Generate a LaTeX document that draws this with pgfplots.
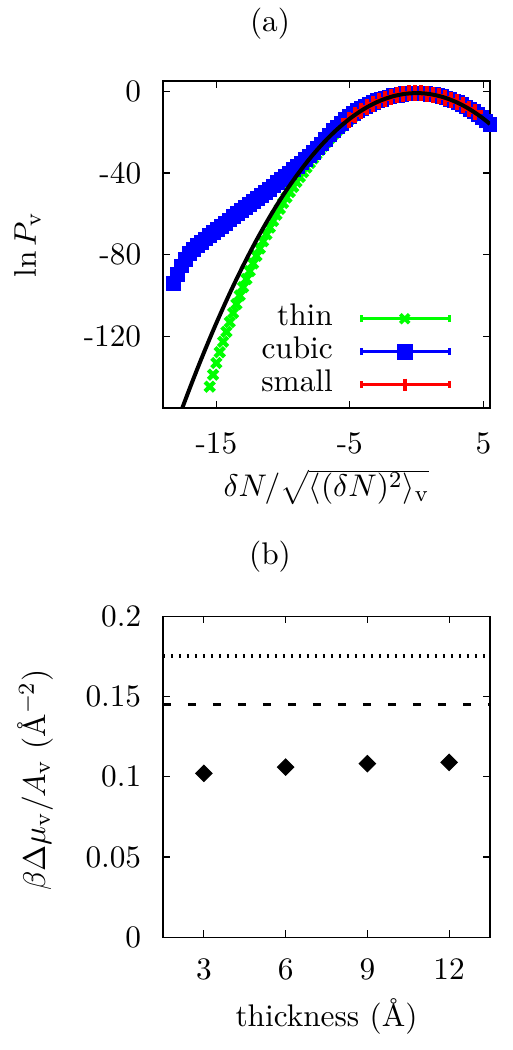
\documentclass[border=0pt]{standalone}
\usepackage{pgfplots}
\pgfplotsset{compat=1.18}
\definecolor{ggreen}{RGB}{0,255,0}
\definecolor{bblue}{RGB}{0,0,255}
\definecolor{rred}{RGB}{255,0,0}
\newcommand{\mylegend}[3]{%
  \draw[#1, line width=1pt] (0pt,0pt) -- (30.8pt,0pt);
  \draw[#1, line width=1pt] (0pt,-1.2pt) -- (0pt,1.2pt) (30.8pt,-1.2pt) -- (30.8pt,1.2pt);
  \draw[#1, line width=1.3pt] plot[only marks, mark=#2, mark options={#3}] coordinates {(15.3pt,0pt)};
}
\begin{document}
\fontsize{10.95pt}{13pt}\selectfont
\begin{tikzpicture}
\useasboundingbox (0,0) rectangle (179.55pt,367.5pt);
\node at (94.5pt,359.3pt) {(a)};
\node at (94.5pt,172.7pt) {(b)};
\begin{axis}[
  at={(57.05pt,224.7pt)}, anchor=south west,
  scale only axis, width=114.45pt, height=114.45pt,
  xmin=-19, xmax=5.5, ymin=-155, ymax=5,
  xtick={-15,-5,5}, xticklabels={-15,-5,5},
  ytick={-120,-80,-40,0}, yticklabels={-120,-80,-40,0},
  major tick length=2.45pt,
  tick style={black, line width=0.4pt},
  xticklabel style={yshift=-4.7pt},
  yticklabel style={xshift=-3.8pt},
  xlabel={$\delta N/\sqrt{\langle(\delta N)^2\rangle_{\rm v}}$},
  ylabel={$\ln P_{\rm v}$},
  xlabel style={at={(axis description cs:0.5,-0.242)}, anchor=center},
  ylabel style={at={(axis description cs:-0.415,0.5)}, anchor=center},
  clip mode=individual,
  legend plot pos=right,
  legend cell align=right,
  legend style={draw=none, fill=none, at={(axis description cs:0.881,0.019)}, anchor=south east, inner sep=0pt, row sep=0pt, column sep=9.4pt, nodes={inner sep=0pt, text height=8pt, text depth=3.55pt}},
]
\addplot[only marks, color=ggreen, mark=x, mark size=2.3pt, line width=1.5pt,
  legend image code/.code={\mylegend{ggreen}{x}{mark size=2.2pt}}] coordinates {
(-15.5,-144.57) (-15.25,-138.70) (-15.0,-132.95) (-14.75,-127.72) (-14.5,-122.60)
(-14.25,-117.74) (-14.0,-112.97) (-13.75,-108.52) (-13.5,-104.17) (-13.25,-99.97)
(-13.0,-95.87) (-12.75,-91.91) (-12.5,-88.04) (-12.25,-84.25) (-12.0,-80.55)
(-11.75,-76.93) (-11.5,-73.40) (-11.25,-70.01) (-11.0,-66.70) (-10.75,-63.53)
(-10.5,-60.43) (-10.25,-57.52) (-10.0,-54.69) (-9.75,-51.98) (-9.5,-49.33)
(-9.25,-46.81) (-9.0,-44.35) (-8.75,-41.96) (-8.5,-39.64) (-8.25,-37.34)
(-8.0,-35.12) (-7.75,-32.92) (-7.5,-30.80) (-7.25,-28.75) (-7.0,-26.77)
(-6.75,-24.86) (-6.5,-23.03) (-6.25,-21.27) (-6.0,-19.59) (-5.75,-17.97)
(-5.5,-16.43) (-5.25,-14.99) (-5.0,-13.62) (-4.75,-12.34) (-4.5,-11.14)
(-4.25,-9.99) (-4.0,-8.92) (-3.75,-7.95) (-3.5,-7.05) (-3.25,-6.20)
(-3.0,-5.42) (-2.75,-4.70) (-2.5,-4.05) (-2.25,-3.45) (-2.0,-2.92)
(-1.75,-2.45) (-1.5,-2.05) (-1.25,-1.70) (-1.0,-1.42) (-0.75,-1.20)
(-0.5,-1.05) (-0.25,-0.95) (0,-0.92) (0.25,-0.95) (0.5,-1.05)
(0.75,-1.20) (1.0,-1.42) (1.25,-1.70) (1.5,-2.05) (1.75,-2.45)
(2.0,-2.92) (2.25,-3.45) (2.5,-4.05) (2.75,-4.70) (3.0,-5.42)
(3.25,-6.20) (3.5,-7.05) (3.75,-7.95) (4.0,-8.92) (4.25,-9.95)
(4.5,-11.05) (4.75,-12.20) (5.0,-13.42) (5.25,-14.70) (5.5,-16.05)
};
\addlegendentry{thin}
\addplot[only marks, color=bblue, mark=square*, mark size=2.4pt,
  legend image code/.code={\mylegend{bblue}{square*}{mark size=2.1pt}}] coordinates {
(-18.2,-94.0) (-17.9,-89.5) (-17.6,-85.5) (-17.3,-82.3) (-17.0,-79.6)
(-16.7,-77.4) (-16.4,-75.6) (-16.1,-73.9) (-15.8,-72.3) (-15.5,-70.8)
(-15.2,-69.3) (-14.9,-67.8) (-14.6,-66.2) (-14.3,-64.6) (-14.0,-63.0)
(-13.7,-61.5) (-13.4,-60.0) (-13.1,-58.5) (-12.8,-57.0) (-12.5,-55.5)
(-12.2,-54.0) (-11.9,-52.5) (-11.6,-51.0) (-11.3,-49.5) (-11.0,-48.0)
(-10.7,-46.4) (-10.4,-44.8) (-10.1,-43.2) (-9.8,-41.6) (-9.5,-40.0)
(-9.2,-38.4) (-8.9,-36.8) (-8.6,-35.1) (-8.3,-33.4) (-8.0,-31.7)
(-7.7,-29.8) (-7.4,-27.8) (-7.1,-25.8) (-6.8,-23.6) (-6.5,-21.4)
(-6.2,-19.4) (-5.9,-17.5) (-5.6,-15.7) (-5.3,-14.0) (-5.0,-12.4)
(-4.7,-10.9) (-4.4,-9.6) (-4.1,-8.4) (-3.8,-7.3) (-3.5,-6.3)
(-3.2,-5.4) (-2.9,-4.6) (-2.6,-3.9) (-2.3,-3.3) (-2.0,-2.8)
(-1.7,-2.3) (-1.4,-1.9) (-1.1,-1.6) (-0.8,-1.3) (-0.5,-1.1)
(-0.2,-1.0) (0.1,-0.95) (0.4,-1.0) (0.7,-1.2) (1.0,-1.45)
(1.3,-1.8) (1.6,-2.2) (1.9,-2.75) (2.2,-3.35) (2.5,-4.0)
(2.8,-4.8) (3.1,-5.6) (3.4,-6.6) (3.7,-7.7) (4.0,-8.9)
(4.3,-10.1) (4.6,-11.5) (4.9,-13.0) (5.2,-14.6) (5.5,-16.2)
};
\addlegendentry{cubic}
\addplot[only marks, color=rred, mark=+, mark size=2.8pt, line width=1.4pt,
  legend image code/.code={\mylegend{rred}{|}{mark size=2.1pt}}] coordinates {
(-5.1,-13.93) (-4.65,-11.73) (-4.2,-9.74) (-3.75,-7.95) (-3.3,-6.37)
(-2.85,-4.98) (-2.4,-3.80) (-1.95,-2.82) (-1.5,-2.05) (-1.05,-1.47)
(-0.6,-1.10) (-0.15,-0.93) (0.3,-0.97) (0.75,-1.20) (1.2,-1.64)
(1.65,-2.28) (2.1,-3.13) (2.55,-4.17) (3.0,-5.42) (3.45,-6.87)
(3.9,-8.53) (4.35,-10.38)
};
\addlegendentry{small}
\addplot[black, line width=1.4pt, smooth, forget plot] coordinates {
(-17.7,-157.57) (-17.5,-154.05) (-17.0,-145.42) (-16.5,-137.05) (-16.0,-128.92)
(-15.5,-121.05) (-15.0,-113.42) (-14.5,-106.05) (-14.0,-98.92) (-13.5,-92.05)
(-13.0,-85.42) (-12.5,-79.05) (-12.0,-72.92) (-11.5,-67.05) (-11.0,-61.42)
(-10.5,-56.05) (-10.0,-50.92) (-9.5,-46.05) (-9.0,-41.42) (-8.5,-37.05)
(-8.0,-32.92) (-7.5,-29.05) (-7.0,-25.42) (-6.5,-22.05) (-6.0,-18.92)
(-5.5,-16.05) (-5.0,-13.42) (-4.5,-11.05) (-4.0,-8.92) (-3.5,-7.05)
(-3.0,-5.42) (-2.5,-4.05) (-2.0,-2.92) (-1.5,-2.05) (-1.0,-1.42)
(-0.5,-1.05) (0,-0.92) (0.5,-1.05) (1.0,-1.42) (1.5,-2.05)
(2.0,-2.92) (2.5,-4.05) (3.0,-5.42) (3.5,-7.05) (4.0,-8.92)
(4.5,-11.05) (5.0,-13.42) (5.5,-16.05)
};
\end{axis}
\begin{axis}[
  at={(57.05pt,39.445pt)}, anchor=south west,
  scale only axis, width=114.45pt, height=112.35pt,
  xmin=1.5, xmax=13.5, ymin=0, ymax=0.2,
  xtick={3,6,9,12}, xticklabels={3,6,9,12},
  ytick={0,0.05,0.1,0.15,0.2}, yticklabels={0,0.05,0.1,0.15,0.2},
  major tick length=2.45pt,
  tick style={black, line width=0.4pt},
  xticklabel style={yshift=-3.7pt},
  yticklabel style={xshift=-3.8pt},
  xlabel={thickness (\AA)},
  ylabel={$\beta\Delta\mu_{\rm v}/A_{\rm v}$ (\AA$^{-2}$)},
  xlabel style={at={(axis description cs:0.5,-0.248)}, anchor=center},
  ylabel style={at={(axis description cs:-0.391,0.49)}, anchor=center},
  clip mode=individual,
]
\addplot[black, line width=1.4pt, dash pattern=on 0.7pt off 2.1pt] coordinates {(1.5,0.175) (13.5,0.175)};
\addplot[black, line width=0.9pt, dash pattern=on 2.9pt off 5.85pt] coordinates {(1.5,0.145) (13.5,0.145)};
\addplot[only marks, black, mark=square*, mark size=2.0pt, mark options={rotate=45}] coordinates {(3,0.1022) (6,0.1061) (9,0.1082) (12,0.1090)};
\end{axis}
\end{tikzpicture}
\end{document}
